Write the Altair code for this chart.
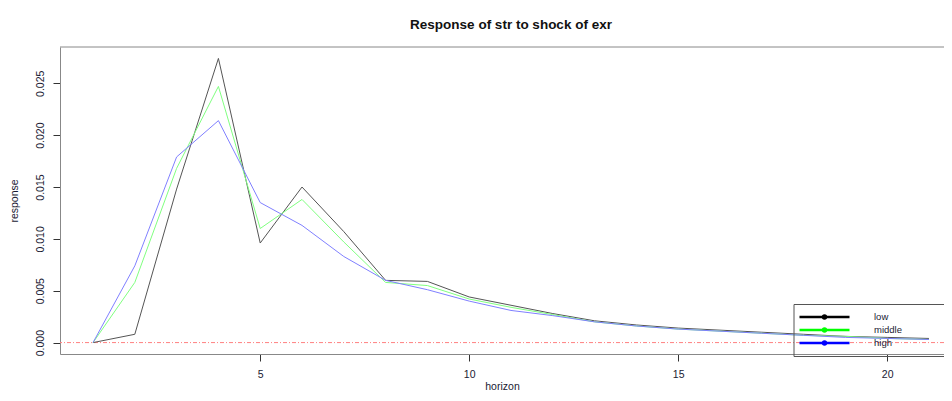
import altair as alt
import pandas as pd

horizon = list(range(1, 22))
low = [0.0, 0.0008, 0.0148, 0.0274, 0.0096, 0.0150, 0.0107, 0.0060, 0.0059, 0.0044,
       0.0036, 0.0028, 0.0021, 0.0017, 0.0014, 0.0012, 0.0010, 0.0008, 0.0006, 0.0005, 0.0004]
middle = [0.0, 0.0058, 0.0168, 0.0247, 0.0110, 0.0138, 0.0097, 0.0058, 0.0055, 0.0042,
          0.0034, 0.0027, 0.0020, 0.0016, 0.0013, 0.0011, 0.0009, 0.0007, 0.0006, 0.0004, 0.0003]
high = [0.0, 0.0074, 0.0179, 0.0214, 0.0135, 0.0113, 0.0083, 0.0060, 0.0051, 0.0040,
        0.0031, 0.0026, 0.0020, 0.0016, 0.0013, 0.0011, 0.0009, 0.0007, 0.0005, 0.0004, 0.0003]

series_names = ["low", "middle", "high"]
line_colors = ["#555555", "#80ff80", "#8080ff"]
legend_colors = ["#000000", "#00ff00", "#0000ff"]
x_ticks = [5, 10, 15, 20]
y_ticks = [0.0, 0.005, 0.010, 0.015, 0.020, 0.025]

rows = []
for name, vals in zip(series_names, [low, middle, high]):
    for h, v in zip(horizon, vals):
        rows.append({"horizon": h, "response": v, "series": name})
df = pd.DataFrame(rows)

x_scale = alt.Scale(domain=[0.21, 21.36], nice=False, zero=False)
y_scale = alt.Scale(domain=[-0.0011, 0.0285], nice=False, zero=False)

FONT = "Liberation Sans"
TXT = "#1a1a33"
BOX = "#888888"

x_enc = alt.X("horizon:Q", scale=x_scale,
              axis=alt.Axis(values=x_ticks, title="horizon", labelPadding=8,
                            titlePadding=2, domain=True, domainColor=BOX))
y_enc = alt.Y("response:Q", scale=y_scale,
              axis=alt.Axis(values=y_ticks, format=".3f", title="response",
                            labelAngle=270, labelAlign="center", labelBaseline="bottom",
                            labelPadding=8, titlePadding=16, domain=True, domainColor=BOX))

top_border = alt.Chart(pd.DataFrame({"z": [0]})).mark_rule(
    color=BOX, strokeWidth=1
).encode(y=alt.value(0))

zero_line = alt.Chart(pd.DataFrame({"z": [0.0]})).mark_rule(
    color="#ff8080", strokeWidth=1, strokeDash=[4, 2, 1, 2]
).encode(y=alt.Y("z:Q", scale=y_scale))

lines = alt.Chart(df).mark_line(strokeWidth=1).encode(
    x=x_enc, y=y_enc,
    color=alt.Color("series:N", scale=alt.Scale(domain=series_names, range=line_colors),
                    legend=None),
    detail="series:N",
)

# legend symbol: a line with a dot, drawn with unit scale sqrt(size)/2 = 5px
sym = "M-1.4,0H8.6M3.3,0A0.3,0.3,0,1,1,3.9,0A0.3,0.3,0,1,1,3.3,0Z"

legend_layer = alt.Chart(df).transform_filter("false").mark_line(strokeWidth=2.5).encode(
    x=alt.X("horizon:Q", scale=x_scale),
    y=alt.Y("response:Q", scale=y_scale),
    color=alt.Color("series:N",
                    scale=alt.Scale(domain=series_names, range=legend_colors),
                    legend=alt.Legend(
                        title=None, orient="none", legendX=733.5, legendY=257,
                        strokeColor="#555555", padding=6.5,
                        symbolType=sym, symbolSize=100, symbolStrokeWidth=2.5,
                        symbolOpacity=1, labelFont=FONT, labelFontSize=9.5,
                        labelColor=TXT, labelOffset=61, rowPadding=0,
                        labelExpr="datum.label == 'middle' ? pad(datum.label, 12, '\u2800') : datum.label",
                        labelLimit=600,
                    )),
)

chart = alt.layer(top_border, zero_line, lines, legend_layer).resolve_scale(
    color="independent"
).properties(
    width=884, height=307,
    title=alt.TitleParams("Response of str to shock of exr", font=FONT, fontSize=13.5,
                          fontWeight="bold", color="#111111", anchor="middle",
                          offset=15, dx=9),
    padding={"left": 52, "top": 39, "right": 0, "bottom": 40},
    autosize=alt.AutoSizeParams(type="none"),
).configure_view(
    stroke=None
).configure_axis(
    grid=False, tickColor="#333333", tickSize=7,
    labelFont=FONT, labelFontSize=10.5, labelColor=TXT,
    titleFont=FONT, titleFontSize=10.5, titleColor=TXT, titleFontWeight="normal",
)

chart.save("out.html", embed_options={"renderer": "svg", "actions": False})
